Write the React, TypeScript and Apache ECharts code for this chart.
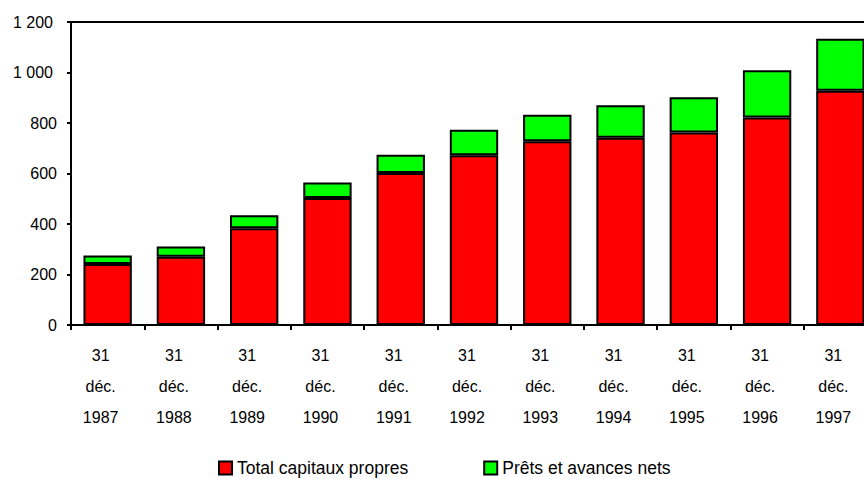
import React, { useEffect, useRef } from "react";
import * as echarts from "echarts";

const categories = ["1987", "1988", "1989", "1990", "1991", "1992", "1993", "1994", "1995", "1996", "1997"];
const capitauxPropres = [242, 270, 383, 503, 602, 672, 728, 742, 762, 822, 928];
const pretsAvances = [33, 41, 52, 61, 72, 101, 105, 128, 140, 187, 206];
const seriesNames = ["Total capitaux propres", "Prêts et avances nets"];

const FONT = "'Liberation Sans', Arial, sans-serif";

export default function App() {
  const ref = useRef<HTMLDivElement>(null);
  useEffect(() => {
    if (!ref.current) return;
    const chart = echarts.init(ref.current, undefined, { renderer: "svg" });
    chart.setOption({
      animation: false,
      backgroundColor: "#fff",
      textStyle: { fontFamily: FONT },
      grid: {
        left: 71,
        top: 22,
        bottom: 154,
        right: 3,
        show: true,
        borderColor: "#000",
        borderWidth: 2,
        containLabel: false,
      },
      legend: {
        left: 218,
        top: 459,
        padding: 0,
        itemWidth: 13,
        itemHeight: 13,
        itemGap: 75,
        itemTextGap: 7,
        icon: "rect",
        textStyle: { fontFamily: FONT, fontSize: 17.5, color: "#000" },
        data: seriesNames.map((n) => ({ name: n, itemStyle: { borderColor: "#000", borderWidth: 2 } })),
      },
      xAxis: {
        type: "category",
        data: categories,
        axisLine: { lineStyle: { color: "#000", width: 2 } },
        axisTick: { show: true, length: 5, lineStyle: { color: "#000", width: 2 } },
        axisLabel: {
          color: "#000",
          fontFamily: FONT,
          fontSize: 16,
          lineHeight: 31,
          margin: 15,
          padding: [0, 14, 0, 0],
          formatter: (v: string) => `31\ndéc.\n${v}`,
        },
      },
      yAxis: {
        type: "value",
        min: 0,
        max: 1200,
        interval: 200,
        axisLine: { show: true, lineStyle: { color: "#000", width: 2 } },
        axisTick: { show: true, length: 4, inside: false, lineStyle: { color: "#000", width: 2 } },
        splitLine: { show: false },
        axisLabel: {
          color: "#000",
          fontFamily: FONT,
          fontSize: 16,
          margin: 14,
          formatter: (v: number) => {
            const s = String(v).replace(/\B(?=(\d{3})+(?!\d))/g, " ");
            return v >= 1000 ? `{k|${s}}` : s;
          },
          rich: {
            k: { fontFamily: FONT, fontSize: 16, color: "#000", padding: [0, 4, 0, 0] },
          },
        },
      },
      series: [
        {
          name: seriesNames[0],
          type: "bar",
          stack: "total",
          data: capitauxPropres,
          barWidth: "66%",
          itemStyle: { color: "#FF0000", borderColor: "#000", borderWidth: 2 },
        },
        {
          name: seriesNames[1],
          type: "bar",
          stack: "total",
          data: pretsAvances,
          barWidth: "66%",
          itemStyle: { color: "#00FF00", borderColor: "#000", borderWidth: 2 },
        },
      ],
    });
    return () => chart.dispose();
  }, []);
  return (
    <div style={{ position: "absolute", left: 0, top: 0, width: 864, height: 479, overflow: "hidden", background: "#fff" }}>
      <div ref={ref} style={{ position: "absolute", left: 0, top: 0, width: 880, height: 479 }} />
    </div>
  );
}
